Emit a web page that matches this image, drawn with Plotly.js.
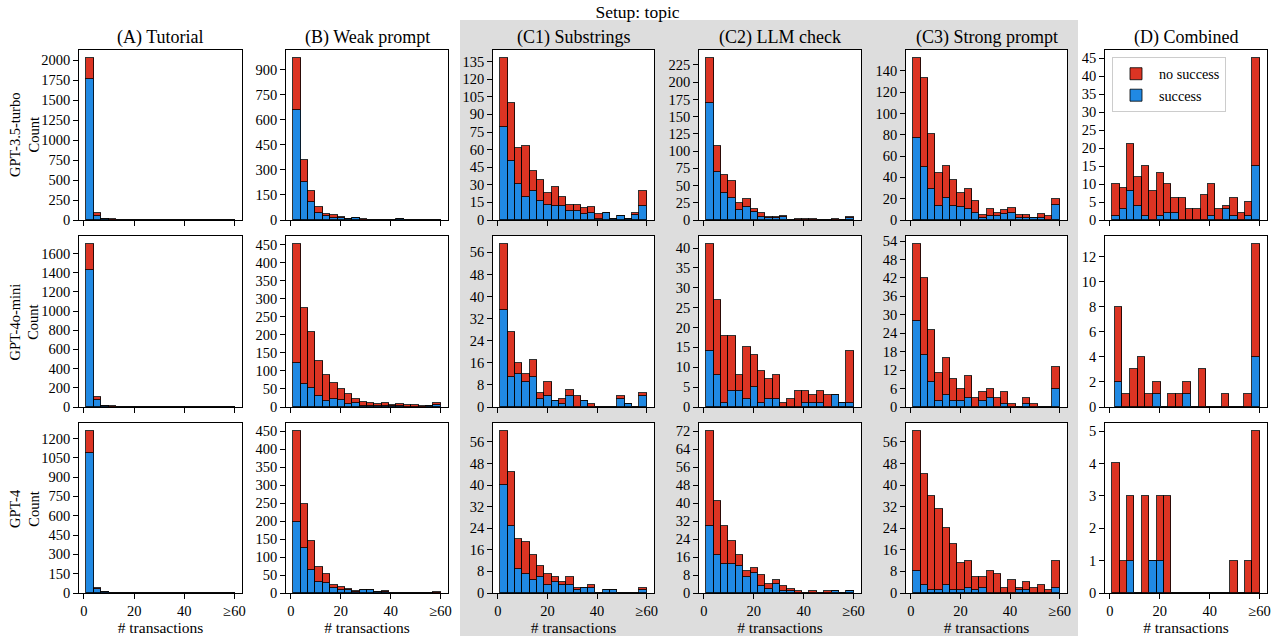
<!DOCTYPE html>
<html>
<head>
<meta charset="utf-8">
<script src="https://cdn.plot.ly/plotly-3.0.1.min.js"></script>
<style>html,body{margin:0;padding:0;background:#fff;}#chart{width:1275px;height:636px;}</style>
</head>
<body>
<div id="chart"></div>
<script>
// ---------- DATA (counts per bin, 20 bins from min to >=60) ----------
const models = ["GPT-3.5-turbo", "GPT-4o-mini", "GPT-4"];
const setups = ["(A) Tutorial", "(B) Weak prompt", "(C1) Substrings", "(C2) LLM check", "(C3) Strong prompt", "(D) Combined"];
const xTickVals = [0, 20, 40, 60];
const xTickText = ["0", "20", "40", "≥60"];
const binMax = 60;

// GPT-3.5-turbo
const gpt35_A_success = [1766, 50, 12, 6, 3, 1, 1, 0, 0, 0, 0, 0, 0, 0, 0, 0, 0, 0, 0, 0];
const gpt35_A_fail    = [258, 33, 6, 4, 1, 1, 0, 0, 0, 0, 0, 0, 0, 0, 0, 0, 0, 0, 0, 0];
const gpt35_B_success = [658, 230, 110, 40, 24, 14, 12, 4, 12, 3, 2, 2, 1, 1, 5, 1, 0, 0, 0, 0];
const gpt35_B_fail    = [312, 128, 62, 40, 14, 16, 6, 2, 0, 1, 1, 1, 1, 0, 1, 0, 1, 0, 0, 0];
const gpt35_C1_success = [79, 50, 31, 20, 25, 16, 13, 12, 12, 8, 8, 5, 6, 1, 6, 1, 3, 1, 4, 12];
const gpt35_C1_fail    = [59, 50, 30, 43, 17, 18, 10, 16, 8, 5, 5, 5, 5, 4, 0, 0, 0, 0, 2, 13];
const gpt35_C2_success = [170, 69, 39, 32, 14, 19, 12, 4, 3, 3, 5, 0, 0, 0, 0, 0, 0, 0, 0, 3];
const gpt35_C2_fail    = [65, 39, 27, 24, 11, 11, 4, 6, 2, 2, 1, 0, 2, 2, 2, 0, 0, 2, 0, 2];
const gpt35_C3_success = [77, 50, 29, 13, 21, 13, 12, 10, 7, 2, 4, 4, 6, 7, 2, 2, 2, 2, 0, 14];
const gpt35_C3_fail    = [75, 83, 52, 31, 30, 25, 13, 19, 11, 3, 6, 3, 3, 4, 3, 3, 0, 4, 4, 6];
const gpt35_D_success = [1, 3, 8, 4, 1, 0, 1, 2, 2, 0, 0, 0, 0, 1, 0, 3, 1, 0, 1, 15];
const gpt35_D_fail    = [9, 6, 13, 8, 14, 8, 12, 8, 4, 6, 3, 3, 7, 9, 3, 1, 5, 2, 4, 30];

// GPT-4o-mini
const gpt4omini_A_success = [1425, 77, 8, 5, 2, 1, 0, 0, 0, 0, 0, 0, 0, 0, 0, 0, 0, 0, 0, 0];
const gpt4omini_A_fail    = [272, 28, 6, 3, 1, 1, 1, 0, 0, 0, 0, 0, 0, 0, 0, 0, 0, 0, 0, 0];
const gpt4omini_B_success = [121, 64, 54, 30, 17, 21, 20, 8, 11, 4, 3, 3, 2, 2, 2, 1, 1, 1, 2, 6];
const gpt4omini_B_fail    = [331, 210, 153, 99, 72, 47, 31, 27, 12, 11, 9, 6, 9, 4, 5, 4, 5, 1, 2, 6];
const gpt4omini_C1_success = [35, 11, 12, 9, 11, 3, 4, 2, 1, 4, 0, 2, 0, 0, 0, 0, 3, 1, 0, 4];
const gpt4omini_C1_fail    = [24, 16, 4, 3, 6, 2, 5, 0, 2, 2, 4, 0, 1, 0, 0, 0, 1, 0, 0, 1];
const gpt4omini_C2_success = [14, 8, 1, 4, 4, 2, 5, 1, 2, 2, 0, 0, 0, 1, 1, 1, 0, 3, 1, 1];
const gpt4omini_C2_fail    = [27, 19, 17, 14, 4, 13, 8, 8, 5, 6, 1, 2, 4, 3, 2, 3, 3, 0, 0, 13];
const gpt4omini_C3_success = [28, 17, 8, 2, 4, 2, 2, 3, 0, 2, 3, 0, 1, 0, 0, 1, 0, 0, 0, 6];
const gpt4omini_C3_fail    = [25, 25, 17, 9, 12, 7, 4, 7, 3, 3, 3, 3, 4, 1, 0, 2, 1, 0, 0, 7];
const gpt4omini_D_success = [2, 0, 0, 0, 0, 1, 0, 0, 0, 1, 0, 0, 0, 0, 0, 0, 0, 0, 4];
const gpt4omini_D_fail    = [6, 1, 3, 4, 1, 1, 0, 1, 1, 1, 0, 3, 0, 0, 1, 0, 0, 1, 9];

// GPT-4
const gpt4_A_success = [1089, 28, 6, 2, 1, 0, 0, 0, 0, 0, 0, 0, 0, 0, 0, 0, 0, 0, 0, 1];
const gpt4_A_fail    = [168, 8, 2, 1, 0, 1, 0, 0, 0, 0, 0, 0, 0, 0, 0, 0, 0, 0, 0, 1];
const gpt4_B_success = [198, 124, 64, 31, 28, 13, 9, 7, 4, 7, 7, 2, 4, 1, 0, 0, 0, 0, 0, 1];
const gpt4_B_fail    = [252, 122, 81, 40, 24, 8, 9, 5, 2, 1, 1, 1, 1, 0, 0, 0, 0, 0, 0, 1];
const gpt4_C1_success = [40, 25, 9, 7, 5, 6, 3, 4, 3, 3, 1, 2, 2, 0, 1, 1, 0, 0, 0, 1];
const gpt4_C1_fail    = [20, 20, 11, 12, 9, 4, 4, 2, 1, 3, 1, 0, 1, 0, 0, 0, 0, 0, 0, 1];
const gpt4_C2_success = [30, 17, 13, 13, 12, 7, 9, 3, 2, 4, 1, 1, 0, 0, 0, 0, 0, 1, 0, 1];
const gpt4_C2_fail    = [42, 24, 17, 10, 5, 3, 2, 5, 2, 2, 2, 1, 1, 0, 1, 0, 1, 0, 0, 0];
const gpt4_C3_success = [8, 3, 1, 1, 3, 1, 1, 2, 1, 2, 0, 0, 0, 0, 1, 1, 0, 0, 0, 2];
const gpt4_C3_fail    = [52, 41, 35, 30, 21, 17, 10, 10, 5, 4, 8, 7, 2, 5, 1, 3, 2, 3, 1, 10];
const gpt4_D_success = [0, 0, 1, 0, 0, 1, 1, 0, 0, 0, 0, 0, 0, 0, 0, 0, 0, 0, 0, 0];
const gpt4_D_fail    = [4, 1, 2, 0, 3, 0, 2, 3, 0, 0, 0, 0, 0, 0, 0, 0, 1, 0, 1, 5];

// smallest value (left edge of the first bin) per panel
const binStarts = [[1, 1, 1, 1, 1, 1], [1, 1, 1, 1, 1, 2], [1, 1, 1, 1, 1, 1]];

const successData = [
  [gpt35_A_success, gpt35_B_success, gpt35_C1_success, gpt35_C2_success, gpt35_C3_success, gpt35_D_success],
  [gpt4omini_A_success, gpt4omini_B_success, gpt4omini_C1_success, gpt4omini_C2_success, gpt4omini_C3_success, gpt4omini_D_success],
  [gpt4_A_success, gpt4_B_success, gpt4_C1_success, gpt4_C2_success, gpt4_C3_success, gpt4_D_success]
];
const failData = [
  [gpt35_A_fail, gpt35_B_fail, gpt35_C1_fail, gpt35_C2_fail, gpt35_C3_fail, gpt35_D_fail],
  [gpt4omini_A_fail, gpt4omini_B_fail, gpt4omini_C1_fail, gpt4omini_C2_fail, gpt4omini_C3_fail, gpt4omini_D_fail],
  [gpt4_A_fail, gpt4_B_fail, gpt4_C1_fail, gpt4_C2_fail, gpt4_C3_fail, gpt4_D_fail]
];

// ---------- STYLE / LAYOUT ----------
const W = 1275, H = 636;
const colPx = [[79, 242], [286, 448], [493, 654], [699, 861], [906, 1067], [1105, 1267]];
const rowPx = [[50, 220], [236, 407], [423, 593]];
const yDticks = [[250, 150, 15, 25, 20, 5], [200, 50, 8, 5, 6, 2], [150, 50, 8, 8, 8, 1]];
const RED = "#dc3423", BLUE = "#2089e3", EDGE = "rgba(0,0,0,0.8)";
const FONT = "Liberation Serif";

const traces = [];
const layout = {
  width: W, height: H,
  margin: {l: 0, r: 0, t: 0, b: 0},
  paper_bgcolor: "#ffffff",
  plot_bgcolor: "rgba(0,0,0,0)",
  barmode: "stack",
  bargap: 0,
  font: {family: FONT, color: "#000", size: 13.9},
  title: {text: "Setup: topic", x: 0.5, xanchor: "center", y: 1 - 12 / H, yanchor: "middle", font: {family: FONT, size: 17.5, color: "#000"}},
  showlegend: true,
  legend: {
    x: 1112 / W, y: 1 - 57 / H, xanchor: "left", yanchor: "top",
    traceorder: "normal",
    bgcolor: "rgba(255,255,255,0.9)", bordercolor: "#cccccc", borderwidth: 1,
    font: {family: FONT, size: 14.2, color: "#000"},
    tracegroupgap: 0, itemwidth: 36
  },
  shapes: [{type: "rect", xref: "paper", yref: "paper", x0: 460 / W, x1: 1078 / W, y0: 0, y1: 1 - 20 / H,
            fillcolor: "#dddddd", line: {width: 0}, layer: "below"}],
  annotations: []
};

for (let r = 0; r < 3; r++) {
  for (let c = 0; c < 6; c++) {
    const idx = r * 6 + c + 1;
    const s = idx === 1 ? "" : String(idx);
    const succ = successData[r][c];
    const fail = failData[r][c];
    const start = binStarts[r][c];
    const w = (binMax - start) / succ.length;
    const xs = succ.map((_, i) => start + (i + 0.5) * w);
    const maxTotal = Math.max(...succ.map((v, i) => v + fail[i]));
    traces.push({type: "bar", x: xs, y: succ, width: w, name: "success",
      marker: {color: BLUE, line: {color: EDGE, width: 1}},
      xaxis: "x" + s, yaxis: "y" + s, showlegend: idx === 1, legendrank: 2, hoverinfo: "x+y+name"});
    traces.push({type: "bar", x: xs, y: fail, width: w, name: "no success",
      marker: {color: RED, line: {color: EDGE, width: 1}},
      xaxis: "x" + s, yaxis: "y" + s, showlegend: idx === 1, legendrank: 1, hoverinfo: "x+y+name"});

    const xa = {
      domain: [colPx[c][0] / W, colPx[c][1] / W], anchor: "y" + s,
      range: [-1.95, 62.95], tickmode: "array", tickvals: xTickVals, ticktext: xTickText,
      showticklabels: r === 2, ticks: "outside", ticklen: 4.9, tickwidth: 1.1, tickcolor: "#000",
      showline: true, linecolor: "#000", linewidth: 1.1, mirror: true,
      showgrid: false, zeroline: false, tickfont: {family: FONT, size: 14.5, color: "#000"}
    };
    if (r === 2) xa.title = {text: "# transactions", font: {family: FONT, size: 15.5, color: "#000"}, standoff: 2};
    const ya = {
      domain: [1 - rowPx[r][1] / H, 1 - rowPx[r][0] / H], anchor: "x" + s,
      range: [0, maxTotal * 1.05], tickmode: "linear", tick0: 0, dtick: yDticks[r][c],
      ticks: "outside", ticklen: 4.9, tickwidth: 1.1, tickcolor: "#000",
      showline: true, linecolor: "#000", linewidth: 1.1, mirror: true,
      showgrid: false, zeroline: false, tickfont: {family: FONT, size: 14.5, color: "#000"}
    };
    layout["xaxis" + s] = xa;
    layout["yaxis" + s] = ya;
    layout.shapes.push({type: "rect", xref: "x" + s + " domain", yref: "y" + s + " domain",
      x0: 0, x1: 1, y0: 0, y1: 1, fillcolor: "#ffffff", line: {width: 0}, layer: "below"});
  }
}

setups.forEach((t, c) => {
  layout.annotations.push({text: t, xref: "paper", yref: "paper",
    x: (colPx[c][0] + colPx[c][1]) / 2 / W, y: 1 - 37 / H, xanchor: "center", yanchor: "middle",
    showarrow: false, font: {family: FONT, size: 18, color: "#000"}});
});
models.forEach((m, r) => {
  layout.annotations.push({text: m + "<br>Count", xref: "paper", yref: "paper",
    x: 24 / W, y: 1 - (rowPx[r][0] + rowPx[r][1]) / 2 / H, xanchor: "center", yanchor: "middle",
    textangle: -90, showarrow: false, font: {family: FONT, size: 14.5, color: "#000"}});
});

Plotly.newPlot("chart", traces, layout, {displayModeBar: false, responsive: false});
</script>
</body>
</html>
